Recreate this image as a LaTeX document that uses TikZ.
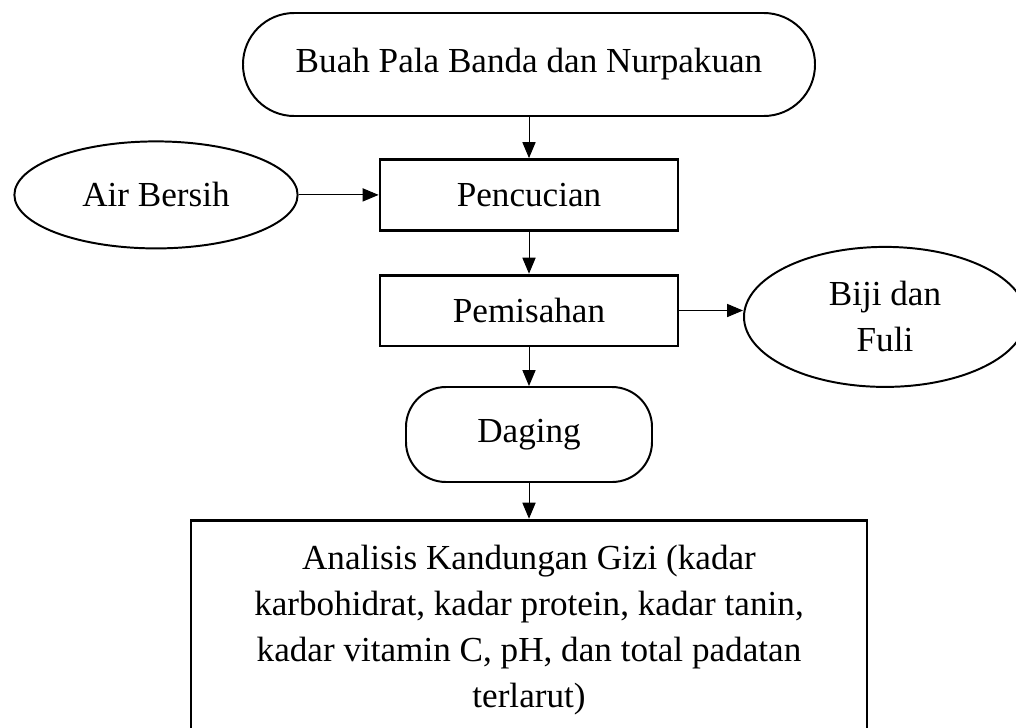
\documentclass[tikz,border=0pt]{standalone}
\usepackage{fontspec}
\setmainfont{Liberation Serif}
\usetikzlibrary{arrows.meta,shapes.geometric}
\tikzset{%
  >={Triangle[width=3.3mm,length=4mm]},
  % Specifications for style of nodes:
        base/.style = {draw=black, text centered, align=center,
                       inner sep=0pt, font=\fontsize{25}{32.7}\selectfont},
    terminal/.style = {base, rectangle, line width=1.4pt},
     process/.style = {base, rectangle, line width=2pt,
                       minimum width=7.45cm, minimum height=1.77cm},
       input/.style = {base, ellipse, line width=1.4pt},
      result/.style = {base, rectangle, line width=2pt,
                       minimum width=16.9cm, minimum height=5.5cm},
}

\begin{document}
\begin{tikzpicture}[node distance=3cm]
  \useasboundingbox (0,0) rectangle (25.4,-18.175);
  \clip (0,0) rectangle (25.4,-18.175);
  % Specification of nodes (position, etc.)
  \node (start)     [terminal, minimum width=14.3cm, minimum height=2.575cm,
                     rounded corners=1.28cm] at (13.225,-1.6125)
                    {Buah Pala Banda dan Nurpakuan};
  \node (pencucian) [process, below of=start, yshift=-0.26cm]  {Pencucian};
  \node (pemisahan) [process, below of=pencucian, yshift=0.11cm] {Pemisahan};
  \node (daging)    [terminal, below of=pemisahan, yshift=-0.1cm,
                     minimum width=6.15cm, minimum height=2.375cm,
                     rounded corners=1cm]                       {Daging};
  \node (analisis)  [result, below of=daging, yshift=-1.89cm]
    {Analisis Kandungan Gizi (kadar\\
     karbohidrat, kadar protein, kadar tanin,\\
     kadar vitamin C, pH, dan total padatan\\
     terlarut)};

  \node (air)       [input, left of=pencucian, xshift=-6.325cm,
                     minimum width=7.08cm, minimum height=2.675cm] {Air Bersih};
  \node (biji)      [input, right of=pemisahan, xshift=5.9cm, yshift=-0.16cm,
                     minimum width=7.05cm, minimum height=3.5cm] {Biji dan\\Fuli};

  % Specification of lines between nodes specified above
  \draw[->, line width=0.7pt]     (start) -- (pencucian);
  \draw[->, line width=0.7pt]       (air) -- (pencucian);
  \draw[->, line width=0.7pt] (pencucian) -- (pemisahan);
  \draw[->, line width=0.7pt] (pemisahan.east) -- (biji.west |- pemisahan.east);
  \draw[->, line width=0.7pt] (pemisahan) -- (daging);
  \draw[->, line width=0.7pt]    (daging) -- (analisis);

\end{tikzpicture}
\end{document}
